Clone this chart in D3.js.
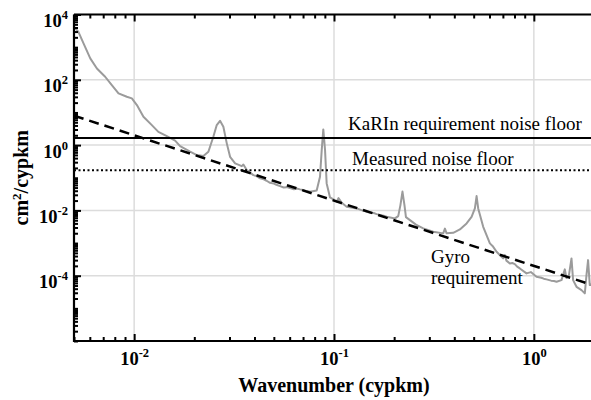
<!DOCTYPE html>
<html><head><meta charset="utf-8">
<script src="https://cdn.jsdelivr.net/npm/d3@7"></script>
<style>body{margin:0;background:#fff}svg{display:block}</style>
</head><body>
<svg id="c" width="591" height="400"></svg>
<script>
// Measured spectrum (wavenumber in cypkm, PSD in cm^2/cypkm)
const wavenumber = [0.00501,0.00526,0.00558,0.00603,0.00651,0.00716,0.00773,0.00835,0.00919,0.00974,0.01032,0.01113,0.01226,0.01322,0.01457,0.01603,0.01698,0.01905,0.0206,0.0222,0.02352,0.0249,0.0259,0.0269,0.02795,0.02907,0.0302,0.032,0.03456,0.0352,0.0366,0.0395,0.041,0.04266,0.0445,0.046,0.04786,0.05,0.0515,0.0537,0.056,0.058,0.06026,0.063,0.065,0.0676,0.07,0.073,0.0759,0.0819,0.0851,0.0868,0.0884,0.0902,0.0919,0.0955,0.0989,0.1031,0.1053,0.1093,0.1157,0.122,0.126,0.1299,0.136,0.141,0.1457,0.152,0.158,0.1635,0.17,0.177,0.1834,0.2018,0.2096,0.215,0.2201,0.2252,0.2291,0.2399,0.257,0.2796,0.3137,0.352,0.359,0.366,0.395,0.4266,0.4607,0.488,0.507,0.517,0.5267,0.558,0.6026,0.625,0.651,0.702,0.716,0.729,0.7586,0.78,0.8035,0.825,0.851,0.919,0.966,1.031,1.09,1.12,1.157,1.22,1.26,1.299,1.375,1.429,1.457,1.496,1.543,1.572,1.635,1.732,1.799,1.834,1.868,1.905,2.0];
const psd = [4200,2950,1300,452,223,124,68.9,38.3,30.2,26.9,16.8,7.36,4.1,2.55,1.89,1.37,0.93,0.632,0.494,0.46,0.623,1.8,4.1,5.55,3.63,1.13,0.438,0.275,0.227,0.253,0.172,0.1205,0.112,0.0955,0.089,0.081,0.07,0.066,0.061,0.0555,0.0505,0.0515,0.0482,0.0445,0.047,0.044,0.042,0.039,0.0371,0.0404,0.107,0.703,3.03,0.703,0.0671,0.025,0.0222,0.01834,0.0238,0.0171,0.0129,0.0122,0.0119,0.0115,0.0104,0.0098,0.00906,0.0084,0.0083,0.00771,0.0072,0.0069,0.00637,0.00569,0.00669,0.01453,0.0377,0.01453,0.00623,0.00505,0.00367,0.00281,0.00221,0.00198,0.00277,0.00198,0.00206,0.00262,0.004,0.00637,0.0115,0.0274,0.0115,0.00315,0.000975,0.00078,0.00054,0.000339,0.000428,0.00029,0.000238,0.000245,0.000227,0.00019,0.000167,0.0001176,0.000129,0.0000925,0.0000865,0.000081,0.0000771,0.0000705,0.0000685,0.000065,0.0000733,0.000156,0.0000844,0.0000973,0.000339,0.0000733,0.0000457,0.0000362,0.0000287,0.000104,0.0003,0.0000515,0.00006];
// Reference levels
const karinFloor = 1.65;
const measuredFloor = 0.17;
const gyroK = [0.005, 2];
const gyroCoef = 2e-4; // requirement ~ coef * k^-2
const xMajor = [0.01, 0.1, 1];
const yMajor = [1e-4, 1e-2, 1, 1e2, 1e4];
const labels = {karin:"KaRIn requirement noise floor", measured:"Measured noise floor", gyro1:"Gyro", gyro2:"requirement"};

const svg = d3.select("#c");
const L = 74, R = 594, T = 14.5, B = 341;
const x = d3.scaleLog().domain([0.005, 2]).range([L, R]);
const y = d3.scaleLog().domain([1e-6, 1e4]).range([B, T]);
const serif = "'Liberation Serif','Times New Roman',serif";

svg.append("defs").append("clipPath").attr("id","clip")
  .append("rect").attr("x",L).attr("y",T).attr("width",R-L).attr("height",B-T);

// grid
const grid = svg.append("g").attr("stroke","#dcdcdc").attr("stroke-width",1.5);
xMajor.forEach(v=>grid.append("line").attr("x1",x(v)).attr("x2",x(v)).attr("y1",T).attr("y2",B));
yMajor.forEach(v=>grid.append("line").attr("y1",y(v)).attr("y2",y(v)).attr("x1",L).attr("x2",R));

const plot = svg.append("g").attr("clip-path","url(#clip)");
const data = wavenumber.map((k,i)=>[k,psd[i]]);
plot.append("path").datum(data)
  .attr("d", d3.line().x(d=>x(d[0])).y(d=>y(d[1])))
  .attr("fill","none").attr("stroke","#9b9b9b").attr("stroke-width",2).attr("stroke-linejoin","round");

plot.append("line").attr("x1",L).attr("x2",R).attr("y1",y(karinFloor)).attr("y2",y(karinFloor))
  .attr("stroke","#000").attr("stroke-width",2);
plot.append("line").attr("x1",L).attr("x2",R).attr("y1",y(measuredFloor)).attr("y2",y(measuredFloor))
  .attr("stroke","#000").attr("stroke-width",2).attr("stroke-dasharray","2,2.5");
plot.append("path").datum(gyroK.map(k=>[k, gyroCoef/(k*k)]))
  .attr("d", d3.line().x(d=>x(d[0])).y(d=>y(d[1])))
  .attr("fill","none").attr("stroke","#000").attr("stroke-width",2.5).attr("stroke-dasharray","10,6");

// annotations
const ann = svg.append("g").attr("font-family",serif).attr("font-size",19).attr("fill","#000");
ann.append("text").attr("x",348).attr("y",129.5).text(labels.karin);
ann.append("text").attr("x",352).attr("y",165).text(labels.measured);
ann.append("text").attr("x",431).attr("y",263).text(labels.gyro1);
ann.append("text").attr("x",431).attr("y",284).text(labels.gyro2);

// axes
function minorTicks(lo, hi){ const out=[]; for(let e=lo;e<hi;e++) for(let m=1;m<10;m++){ const v=m*Math.pow(10,e); out.push(v);} return out; }
const xMinor = minorTicks(-3,1).filter(v=>v>=0.005 && v<=2 && !xMajor.some(m=>Math.abs(m-v)<1e-12));
const yMinor = minorTicks(-6,4).filter(v=>!yMajor.some(m=>Math.abs(m/v-1)<1e-9));

function styleAxis(g){ g.selectAll("path.domain").remove(); g.selectAll("line").attr("stroke","#000").attr("stroke-width",2); }
function supLabel(sel, anchor){
  sel.selectAll("text").each(function(d){
    const e = Math.round(Math.log10(d));
    const t = d3.select(this).text("10").attr("font-family",serif).attr("font-weight","bold").attr("font-size",18.5).attr("fill","#000").attr("text-anchor",anchor);
    t.append("tspan").attr("dy",-8).attr("font-size",12.5).text(String(e));
  });
}
const gb = svg.append("g").attr("transform",`translate(0,${B})`)
  .call(d3.axisBottom(x).tickValues(xMajor).tickSizeInner(-7).tickSizeOuter(0).tickPadding(24));
styleAxis(gb); supLabel(gb,"middle");
gb.selectAll("text").attr("dy",0);
svg.append("g").attr("transform",`translate(0,${B})`).call(d3.axisBottom(x).tickValues(xMinor).tickSize(-4).tickFormat("")).call(styleAxis);
svg.append("g").attr("transform",`translate(0,${T})`).call(d3.axisTop(x).tickValues(xMajor).tickSize(-7).tickFormat("")).call(styleAxis);
svg.append("g").attr("transform",`translate(0,${T})`).call(d3.axisTop(x).tickValues(xMinor).tickSize(-4).tickFormat("")).call(styleAxis);

const gl = svg.append("g").attr("transform",`translate(${L},0)`)
  .call(d3.axisLeft(y).tickValues(yMajor).tickSizeInner(-7).tickSizeOuter(0).tickPadding(6));
styleAxis(gl); supLabel(gl,"end");
gl.selectAll("text").attr("dy",0).attr("y",12).attr("x",-6);
svg.append("g").attr("transform",`translate(${L},0)`).call(d3.axisLeft(y).tickValues(yMinor).tickSize(-4).tickFormat("")).call(styleAxis);

// box
svg.append("path").attr("d",`M${L},${T}H${R}M${L},${T}V${B}H${R}`).attr("fill","none").attr("stroke","#000").attr("stroke-width",2.2);

// axis titles
svg.append("text").attr("x",(L+R)/2).attr("y",392).attr("text-anchor","middle")
  .attr("font-family",serif).attr("font-weight","bold").attr("font-size",20).text("Wavenumber (cypkm)");
const yt = svg.append("text").attr("transform",`translate(28,${(T+B)/2}) rotate(-90)`).attr("text-anchor","middle")
  .attr("font-family",serif).attr("font-weight","bold").attr("font-size",20);
yt.append("tspan").text("cm");
yt.append("tspan").attr("dy",-7).attr("font-size",13).text("2");
yt.append("tspan").attr("dy",7).text("/cypkm");
</script>
</body></html>
